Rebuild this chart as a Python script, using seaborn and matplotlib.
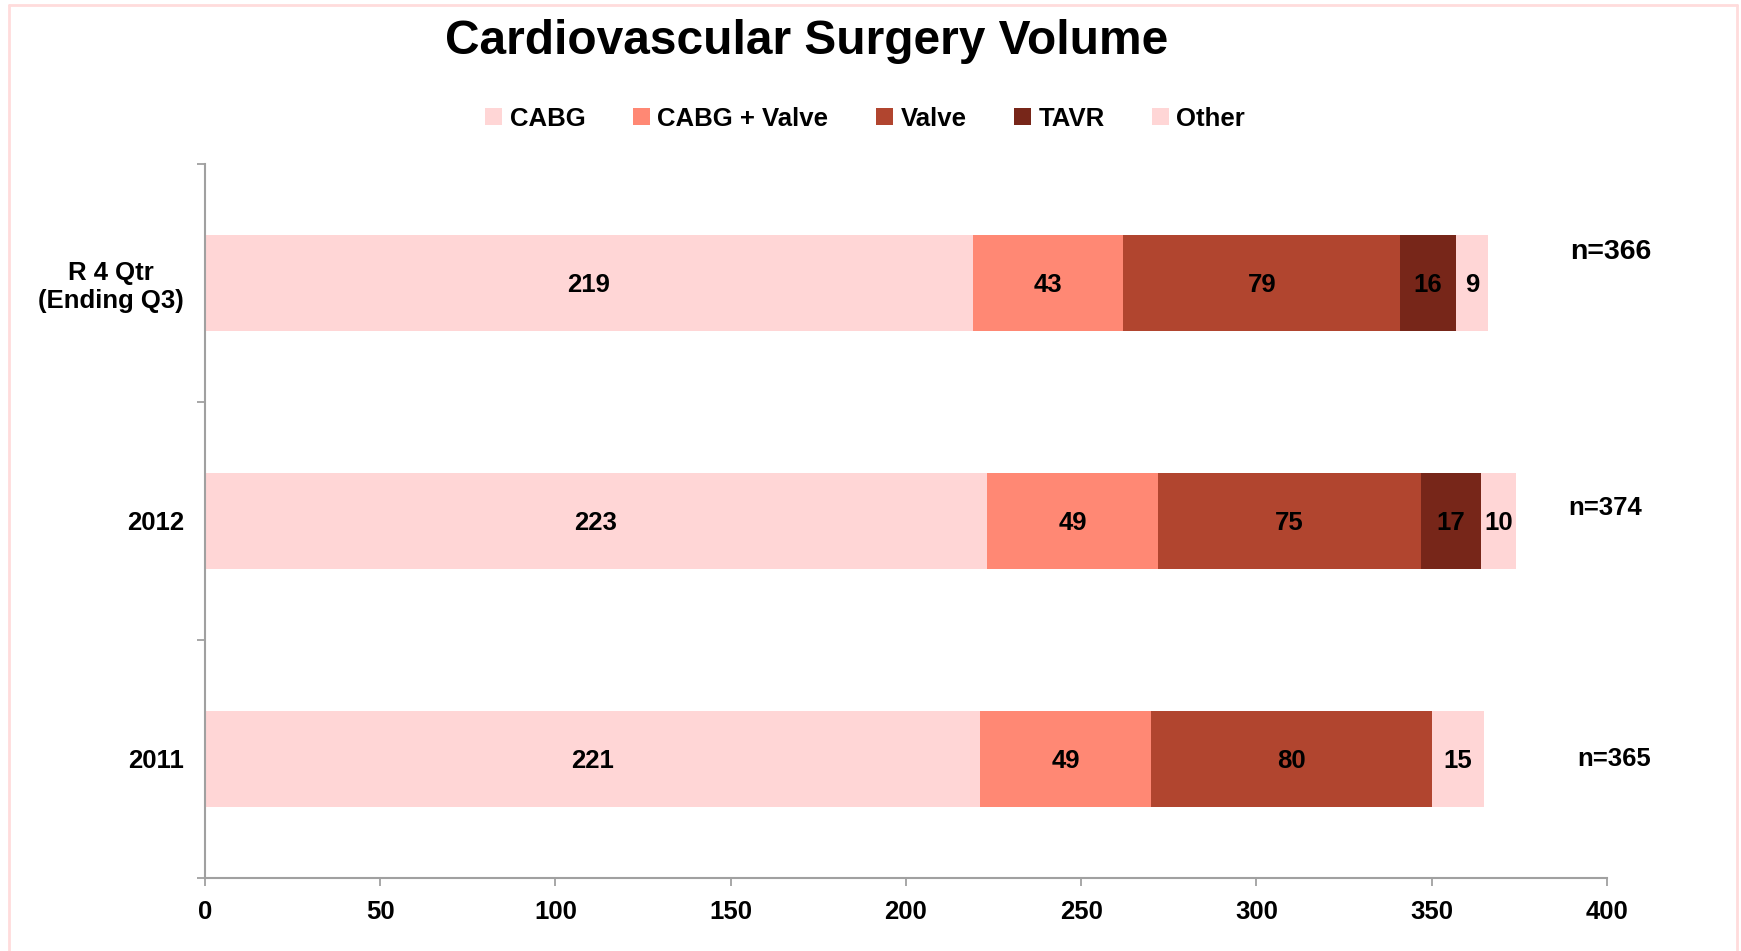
import pandas as pd
import matplotlib.pyplot as plt
import seaborn as sns
import numpy as np
from matplotlib.lines import Line2D
from matplotlib.patches import Patch

# Data
categories = ['R 4 Qtr\n(Ending Q3)', '2012', '2011']
segments = ['CABG', 'CABG + Valve', 'Valve', 'TAVR', 'Other']
cabg = [219, 223, 221]
cabg_valve = [43, 49, 49]
valve = [79, 75, 80]
tavr = [16, 17, 0]
other = [9, 10, 15]

colors = ['#FFD6D6', '#FF8874', '#B1452F', '#772619', '#FFD6D6']

sns.set_style("white")
plt.rcParams['font.family'] = ['Liberation Sans', 'DejaVu Sans']
plt.rcParams['font.weight'] = 'bold'
plt.rcParams['text.color'] = 'black'
plt.rcParams['xtick.labelcolor'] = 'black'
plt.rcParams['ytick.labelcolor'] = 'black'

df = pd.DataFrame({'category': categories, 'CABG': cabg, 'CABG + Valve': cabg_valve,
                   'Valve': valve, 'TAVR': tavr, 'Other': other})
cum = df[segments].cumsum(axis=1)

fig = plt.figure(figsize=(17.41, 9.51), dpi=100)
ax = fig.add_axes([0.1177, 0.0768, 0.8053, 0.7508])

# stacked bars: draw cumulative totals from the outermost segment inwards
for seg, col in reversed(list(zip(segments, colors))):
    sns.barplot(x=cum[seg], y=df['category'], orient='h', color=col,
                width=0.4, ax=ax, linewidth=0, saturation=1)

# segment value labels
for i, row in df.iterrows():
    start = 0
    for seg in segments:
        v = row[seg]
        if v > 0:
            ax.text(start + v / 2, i + 0.01, str(v), ha='center', va='center',
                    fontsize=18.5, fontweight='bold', color='black')
        start += v

# n= totals at the right
totals = df[segments].sum(axis=1)
n_offsets = [-0.13, -0.055, 0.0]
n_x = [401, 399.5, 402]
n_sizes = [20.5, 18.5, 18.5]
for i, t in enumerate(totals):
    ax.text(n_x[i], i + n_offsets[i], f'n={t}', ha='center', va='center',
            fontsize=n_sizes[i], fontweight='bold', clip_on=False)

ax.set_xlim(0, 400)
ax.set_ylim(2.5, -0.5)
ax.set_xticks(np.arange(0, 401, 50))
ax.set_xticklabels([str(v) for v in range(0, 401, 50)], fontsize=18.5, fontweight='bold')
ax.set_yticks([-0.5, 0.5, 1.5, 2.5])
ax.set_yticklabels([])
ax.set_yticks([0, 1, 2], minor=True)
ax.set_yticklabels(categories, minor=True, fontsize=18.5, fontweight='bold',
                   ha='right', multialignment='center')
ax.tick_params(axis='y', which='minor', length=0, pad=15)
ax.tick_params(axis='y', which='major', direction='out', length=6, width=1.3, color='#A0A0A0', left=True)
ax.tick_params(axis='x', direction='out', length=6, width=1.3, color='#A0A0A0', pad=10, bottom=True)
ax.set_xlabel('')
ax.set_ylabel('')

for s in ['top', 'right']:
    ax.spines[s].set_visible(False)
for s in ['left', 'bottom']:
    ax.spines[s].set_color('#A0A0A0')
    ax.spines[s].set_linewidth(1.5)

fig.text(0.4635, 0.956, 'Cardiovascular Surgery Volume', ha='center', va='center',
         fontsize=34.5, fontweight='bold')

handles = [Patch(facecolor=c, edgecolor='none', label=s) for s, c in zip(segments, colors)]
fig.legend(handles=handles, loc='center', bbox_to_anchor=(0.497, 0.875), ncol=5,
           frameon=False, handlelength=0.65, handleheight=0.65,
           handletextpad=0.3, columnspacing=1.85, prop={'weight': 'bold', 'size': 18.5})

# pink frame around the figure
border = '#FFDCDC'
fig.add_artist(Line2D([9 / 1741, 9 / 1741], [0, 1 - 5 / 951], color=border, lw=2))
fig.add_artist(Line2D([9 / 1741, 1737 / 1741], [1 - 5 / 951, 1 - 5 / 951], color=border, lw=2))
fig.add_artist(Line2D([1737 / 1741, 1737 / 1741], [0, 1 - 5 / 951], color=border, lw=2))

plt.savefig('out.png', dpi=100)
